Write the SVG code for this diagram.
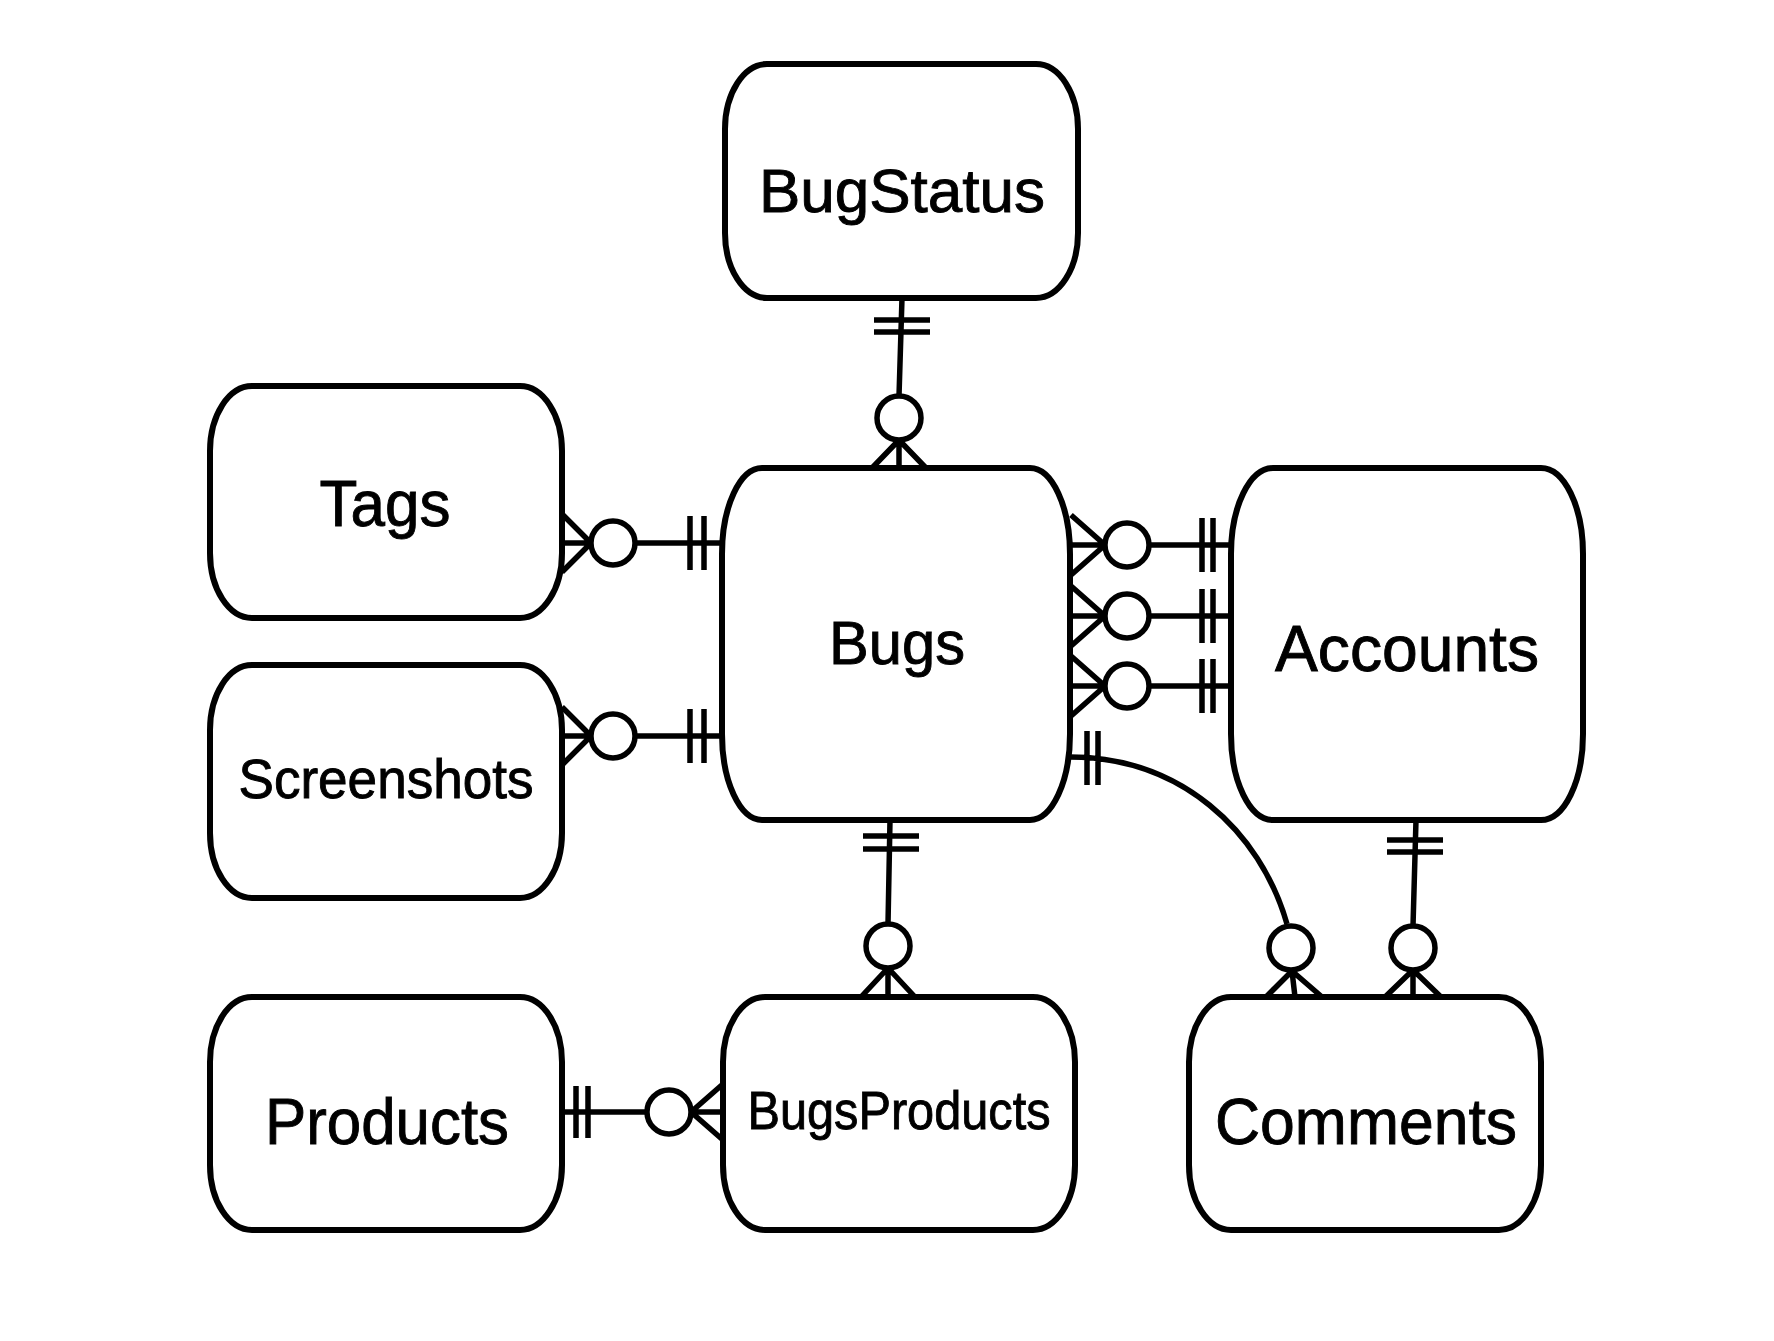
<svg xmlns="http://www.w3.org/2000/svg" width="1774" height="1341" viewBox="0 0 1774 1341">
<style>
.box{fill:#fff;stroke:#000;stroke-width:6}
.ln{fill:none;stroke:#000;stroke-width:5.5}
.ci{fill:#fff;stroke:#000;stroke-width:5.5}
.t{font-family:"Liberation Sans",Arial,sans-serif;fill:#000;stroke:#000;stroke-width:0.9;text-anchor:middle}
</style>
<rect width="1774" height="1341" fill="#fff"/>
<g id="connectors">
  <g id="c-bugstatus-bugs">
    <path class="ln" d="M902,298 L899,396 M874,320 H930 M874,332 H930 M899,440 L872,468 M899,440 V468 M899,440 L926,468"/>
    <circle class="ci" cx="899" cy="418" r="22"/>
  </g>
  <g id="c-tags-bugs">
    <path class="ln" d="M635,543 H722 M690,516 V570 M704,516 V570 M591,543 L562,514 M591,543 H562 M591,543 L562,572"/>
    <circle class="ci" cx="613" cy="543" r="22"/>
  </g>
  <g id="c-screenshots-bugs">
    <path class="ln" d="M635,736 H722 M690,709 V763 M704,709 V763 M591,736 L562,707 M591,736 H562 M591,736 L562,765"/>
    <circle class="ci" cx="613" cy="736" r="22"/>
  </g>
  <g id="c-bugs-accounts-1">
    <path class="ln" d="M1149,545 H1231 M1202,518 V572 M1213,518 V572 M1105,545 L1071,515 M1105,545 H1071 M1105,545 L1071,575"/>
    <circle class="ci" cx="1127" cy="545" r="22"/>
  </g>
  <g id="c-bugs-accounts-2">
    <path class="ln" d="M1149,616 H1231 M1202,589 V643 M1213,589 V643 M1105,616 L1071,586 M1105,616 H1071 M1105,616 L1071,646"/>
    <circle class="ci" cx="1127" cy="616" r="22"/>
  </g>
  <g id="c-bugs-accounts-3">
    <path class="ln" d="M1149,686 H1231 M1202,659 V713 M1213,659 V713 M1105,686 L1071,656 M1105,686 H1071 M1105,686 L1071,716"/>
    <circle class="ci" cx="1127" cy="686" r="22"/>
  </g>
  <g id="c-bugs-comments">
    <path class="ln" d="M1070,757 C1180,757 1260,830 1287,924 M1087,731 V785 M1098,731 V785 M1292,971 L1266,997 M1292,971 L1295,997 M1292,971 L1322,997"/>
    <circle class="ci" cx="1291" cy="948" r="22"/>
  </g>
  <g id="c-accounts-comments">
    <path class="ln" d="M1416,820 L1413,926 M1387,840 H1443 M1387,852 H1443 M1413,970 L1385,997 M1413,970 V997 M1413,970 L1441,997"/>
    <circle class="ci" cx="1413" cy="948" r="22"/>
  </g>
  <g id="c-bugs-bugsproducts">
    <path class="ln" d="M890,820 L888,924 M863,836 H919 M863,849 H919 M888,968 L861,997 M888,968 V997 M888,968 L915,997"/>
    <circle class="ci" cx="888" cy="946" r="22"/>
  </g>
  <g id="c-products-bugsproducts">
    <path class="ln" d="M562,1112 H647 M576,1086 V1138 M588,1086 V1138 M691,1112 L723,1084 M691,1112 H723 M691,1112 L723,1140"/>
    <circle class="ci" cx="669" cy="1112" r="22"/>
  </g>
</g>
<g id="BugStatus">
  <rect class="box" x="725" y="64" width="353" height="234" rx="42" ry="65"/>
  <text class="t" x="902" y="212" font-size="62" textLength="286" lengthAdjust="spacingAndGlyphs">BugStatus</text>
</g>
<g id="Tags">
  <rect class="box" x="210" y="386" width="352" height="232" rx="42" ry="65"/>
  <text class="t" x="385" y="526" font-size="64" textLength="131" lengthAdjust="spacingAndGlyphs">Tags</text>
</g>
<g id="Screenshots">
  <rect class="box" x="210" y="665" width="352" height="233" rx="42" ry="65"/>
  <text class="t" x="386" y="798" font-size="55" textLength="295" lengthAdjust="spacingAndGlyphs">Screenshots</text>
</g>
<g id="Bugs">
  <rect class="box" x="722" y="468" width="348" height="352" rx="40" ry="86"/>
  <text class="t" x="897" y="664" font-size="62" textLength="136" lengthAdjust="spacingAndGlyphs">Bugs</text>
</g>
<g id="Accounts">
  <rect class="box" x="1231" y="468" width="352" height="352" rx="42" ry="86"/>
  <text class="t" x="1407" y="671" font-size="64" textLength="264" lengthAdjust="spacingAndGlyphs">Accounts</text>
</g>
<g id="Products">
  <rect class="box" x="210" y="997" width="352" height="233" rx="42" ry="65"/>
  <text class="t" x="387" y="1144" font-size="64" textLength="244" lengthAdjust="spacingAndGlyphs">Products</text>
</g>
<g id="BugsProducts">
  <rect class="box" x="723" y="997" width="352" height="233" rx="42" ry="65"/>
  <text class="t" x="899" y="1129" font-size="54" textLength="303" lengthAdjust="spacingAndGlyphs">BugsProducts</text>
</g>
<g id="Comments">
  <rect class="box" x="1189" y="997" width="352" height="233" rx="42" ry="65"/>
  <text class="t" x="1366" y="1144" font-size="64" textLength="302" lengthAdjust="spacingAndGlyphs">Comments</text>
</g>
</svg>
